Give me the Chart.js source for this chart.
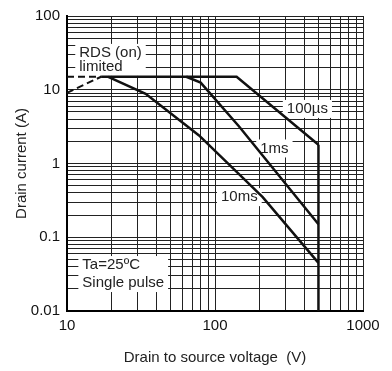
<!DOCTYPE html>
<html>
<head>
<meta charset="utf-8">
<script src="https://cdn.jsdelivr.net/npm/chart.js@4.4.1/dist/chart.umd.min.js"></script>
<style>
  html, body { margin: 0; padding: 0; background: #fff; }
  #wrap { width: 392px; height: 371px; }
</style>
</head>
<body>
<div id="wrap"><canvas id="soaChart"></canvas></div>
<script>
// axis ticks (decades that carry a label)
const xTickLabels = [10, 100, 1000];
const yTickLabels = [0.01, 0.1, 1, 10, 100];

// RDS(on) limited (dashed)
const rdsV = [10, 17];
const rdsI = [9.1, 15];
// Id max continuation (dashed)
const idMaxV = [10, 17];
const idMaxI = [15, 15];
// pulse width curves
const us100V = [17, 140, 500];
const us100I = [15, 15, 1.8];
const ms1V = [64, 80, 145, 500];
const ms1I = [15, 12.5, 3.2, 0.15];
const ms10V = [19, 34, 78, 210, 500];
const ms10I = [15, 8.8, 2.4, 0.35, 0.045];
// VDSS limit
const vdssV = [500, 500];
const vdssI = [0.01, 1.8];

const pts = (xs, ys) => xs.map((x, i) => ({ x: x, y: ys[i] }));

// 1..9 per decade for the log grid
function logGrid(decades) {
  const out = [];
  for (let d = 0; d < decades.length - 1; d++) {
    for (let m = 1; m < 10; m++) out.push(+(decades[d] * m).toPrecision(6));
  }
  out.push(decades[decades.length - 1]);
  return out;
}
const isLabel = (list, v) => list.some(t => Math.abs(v - t) / t < 1e-6);

const FONT = "'Liberation Sans', Arial, sans-serif";

// text notes placed in data coordinates
const notes = [
  { lines: ['RDS (on)', 'limited'], v: 12.1, i: 31.6, gap: 14, align: 'left' },
  { lines: ['100\u00b5s'], v: 421, i: 5.5, gap: 0, align: 'center' },
  { lines: ['1ms'], v: 252, i: 1.6, gap: 0, align: 'center' },
  { lines: ['10ms'], v: 146, i: 0.35, gap: 0, align: 'center' },
  { lines: ['Ta=25\u00baC', 'Single pulse'], v: 12.7, i: 0.042, gap: 18, align: 'left' }
];

const notesPlugin = {
  id: 'notes',
  beforeDatasetsDraw(chart) {
    const { ctx, scales } = chart;
    ctx.save();
    ctx.font = '15px ' + FONT;
    ctx.textBaseline = 'middle';
    notes.forEach(n => {
      const px = scales.x.getPixelForValue(n.v);
      const py = scales.y.getPixelForValue(n.i);
      const w = Math.max(...n.lines.map(l => ctx.measureText(l).width));
      const h = n.gap * (n.lines.length - 1) + 15;
      const left = n.align === 'left' ? px : px - w / 2;
      ctx.fillStyle = '#fff';
      ctx.fillRect(left - 4, py - 9, w + 8, h + 3);
      ctx.fillStyle = '#222';
      ctx.textAlign = 'left';
      n.lines.forEach((l, k) => ctx.fillText(l, left, py + k * n.gap));
    });
    ctx.restore();
  }
};

const solid = (data) => ({
  data: data, showLine: true, borderColor: '#111', borderWidth: 2.5,
  pointRadius: 0, fill: false, tension: 0
});
const dashed = (data) => Object.assign(solid(data), { borderDash: [7, 4], borderWidth: 2 });

new Chart(document.getElementById('soaChart'), {
  type: 'scatter',
  data: {
    datasets: [
      dashed(pts(rdsV, rdsI)),
      dashed(pts(idMaxV, idMaxI)),
      solid(pts(us100V, us100I)),
      solid(pts(ms1V, ms1I)),
      solid(pts(ms10V, ms10I)),
      solid(pts(vdssV, vdssI))
    ]
  },
  options: {
    responsive: true,
    maintainAspectRatio: false,
    animation: false,
    layout: { padding: { top: 15, right: 29, bottom: 0, left: 0 } },
    plugins: { legend: { display: false }, tooltip: { enabled: false } },
    scales: {
      x: {
        type: 'logarithmic', min: 10, max: 1000,
        afterBuildTicks: s => { s.ticks = logGrid(xTickLabels).map(v => ({ value: v })); },
        afterFit: s => { s.height = 60; },
        ticks: {
          autoSkip: false, maxRotation: 0, padding: 6, color: '#111',
          font: { family: FONT, size: 15 },
          callback: v => isLabel(xTickLabels, v) ? String(v) : ''
        },
        grid: { color: '#222', lineWidth: 1, drawTicks: false },
        border: { color: '#000', width: 2 },
        title: {
          display: true, text: 'Drain to source voltage  (V)', color: '#222',
          font: { family: FONT, size: 15 }, padding: { top: 0, bottom: 4 }
        }
      },
      y: {
        type: 'logarithmic', min: 0.01, max: 100,
        afterBuildTicks: s => { s.ticks = logGrid(yTickLabels).map(v => ({ value: v })); },
        afterFit: s => { s.width = 67; },
        ticks: {
          autoSkip: false, padding: 7, color: '#111',
          font: { family: FONT, size: 15 },
          callback: v => isLabel(yTickLabels, v) ? String(v) : ''
        },
        grid: { color: '#222', lineWidth: 1, drawTicks: false },
        border: { color: '#000', width: 2 },
        title: {
          display: true, text: 'Drain current (A)', color: '#222',
          font: { family: FONT, size: 15 }, padding: { top: 13, bottom: 0 }
        }
      }
    }
  },
  plugins: [notesPlugin]
});
</script>
</body>
</html>
